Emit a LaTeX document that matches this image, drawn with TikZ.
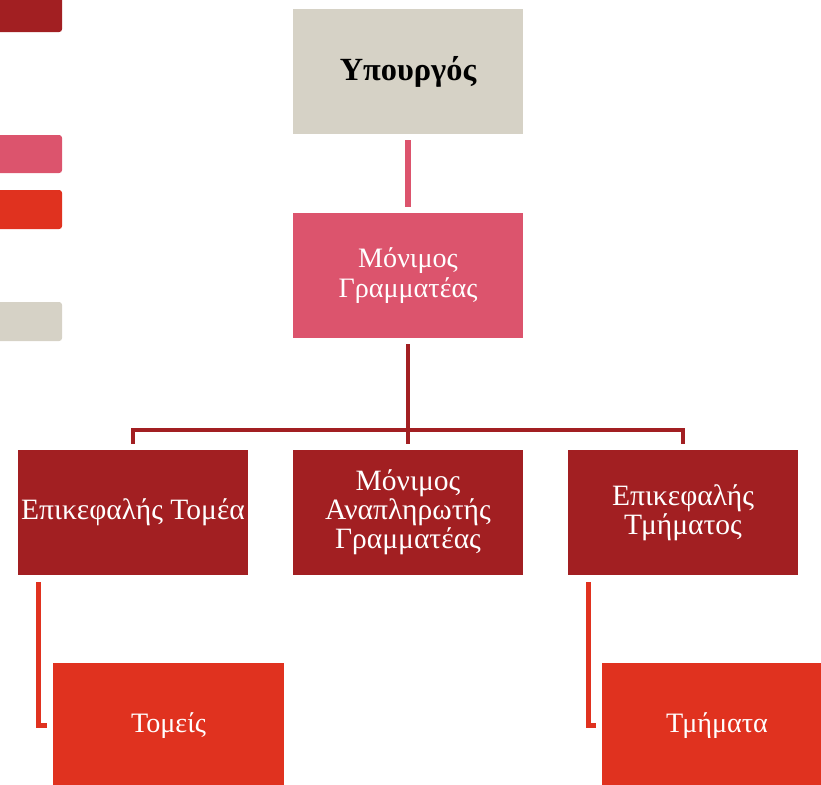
\documentclass[tikz,border=0pt]{standalone}
\usepackage{fontspec}
\setmainfont{Liberation Serif}
\usetikzlibrary{calc}
\definecolor{beige}{HTML}{D6D2C6}
\definecolor{rose}{HTML}{DC546D}
\definecolor{wine}{HTML}{A21F22}
\definecolor{scarlet}{HTML}{E0321F}

\begin{document}
\begin{tikzpicture}[x=0.025cm,y=-0.025cm,
  box/.style={minimum width=5.75cm,minimum height=3.125cm,inner sep=2pt,align=center,text=white,font=\fontsize{20}{21}\selectfont},
  tallbox/.style={box,font=\fontsize{21}{20.5}\selectfont},
  tab/.style={rounded corners=2pt}]
\useasboundingbox (0,0) rectangle (821,784);
\clip (0,0) rectangle (821,784);
\fill[wine,tab] (-10,-10) rectangle (62,32);
\fill[rose,tab] (-10,135) rectangle (62,173);
\fill[scarlet,tab] (-10,190) rectangle (62,229);
\fill[beige,tab] (-10,302) rectangle (62,341);
\node[box,fill=beige,text=black,font=\bfseries\fontsize{23}{24}\selectfont] (minister) at (408,71.5) {Υπουργός};
\node[box,fill=rose] (secretary) at (408,275.5) {Μόνιμος\\Γραμματέας};
\node[tallbox,fill=wine] (sectorhead) at (133,512.5) {Επικεφαλής Τομέα};
\node[tallbox,fill=wine] (deputy) at (408,512.5) {Μόνιμος\\Αναπληρωτής\\Γραμματέας};
\node[tallbox,fill=wine] (depthead) at (683,512.5) {Επικεφαλής\\Τμήματος};
\node[box,fill=scarlet] (sectors) at (168.5,725.5) {Τομείς};
\node[box,fill=scarlet] (depts) at (717,725.5) {Τμήματα};
\coordinate (bar) at (408,430);
\draw[rose,line width=4.3pt,shorten <=0.15cm,shorten >=0.15cm] (minister) -- (secretary);
\draw[wine,line width=3.5pt,shorten <=0.15cm,shorten >=0.15cm] (secretary) -- (deputy);
\draw[wine,line width=3.5pt] ($(sectorhead.north)+(0,-6)$) -- (sectorhead.north |- bar) -- (depthead.north |- bar) -- ($(depthead.north)+(0,-6)$);
\draw[scarlet,line width=3.2pt] ($(sectorhead.south west)+(21,7)$) |- ($(sectors.west)+(-6,0)$);
\draw[scarlet,line width=3.2pt] ($(depthead.south west)+(21,7)$) |- ($(depts.west)+(-6,0)$);
\end{tikzpicture}
\end{document}
